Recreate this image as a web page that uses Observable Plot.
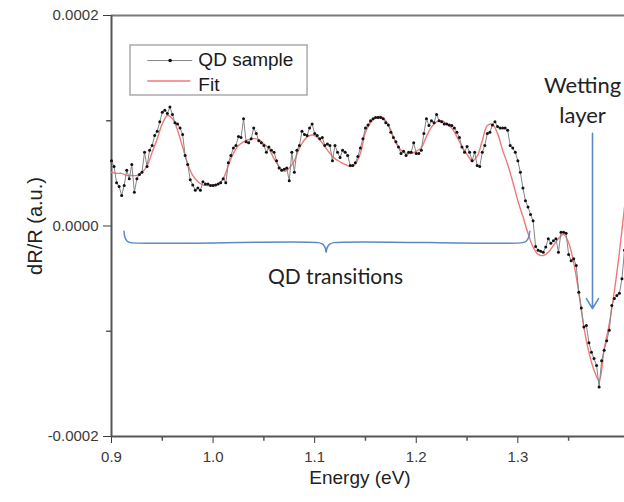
<!DOCTYPE html>
<html>
<head>
<meta charset="utf-8">
<script src="https://cdn.jsdelivr.net/npm/d3@7"></script>
<script src="https://cdn.jsdelivr.net/npm/@observablehq/plot@0.6"></script>
<style>
  html, body { margin: 0; padding: 0; background: #fff; }
  #chart svg { display: block; }
</style>
</head>
<body>
<div id="chart"></div>
<script>
// Energy (eV) of measured points
const sampleEnergy = [
0.9,0.9025,0.905,0.9075,0.91,0.9125,0.915,0.9175,0.92,0.9225,
0.925,0.9275,0.93,0.9325,0.935,0.9375,0.94,0.9425,0.945,0.9475,
0.95,0.9525,0.955,0.9575,0.96,0.9625,0.965,0.9675,0.97,0.9725,
0.975,0.9775,0.98,0.9825,0.985,0.9875,0.99,0.9925,0.995,0.9975,
1.0,1.0025,1.005,1.0075,1.01,1.0125,1.015,1.0175,1.02,1.0225,
1.025,1.0275,1.03,1.0325,1.035,1.0375,1.04,1.0425,1.045,1.0475,
1.05,1.0525,1.055,1.0575,1.06,1.0625,1.065,1.0675,1.07,1.0725,
1.075,1.0775,1.08,1.0825,1.085,1.0875,1.09,1.0925,1.095,1.0975,
1.1,1.1025,1.105,1.1075,1.11,1.1125,1.115,1.1175,1.12,1.1225,
1.125,1.1275,1.13,1.1325,1.135,1.1375,1.14,1.1425,1.145,1.1475,
1.15,1.1525,1.155,1.1575,1.16,1.1625,1.165,1.1675,1.17,1.1725,
1.175,1.1775,1.18,1.1825,1.185,1.1875,1.19,1.1925,1.195,1.1975,
1.2,1.2025,1.205,1.2075,1.21,1.2125,1.215,1.2175,1.22,1.2225,
1.225,1.2275,1.23,1.2325,1.235,1.2375,1.24,1.2425,1.245,1.2475,
1.25,1.2525,1.255,1.2575,1.26,1.2625,1.265,1.2675,1.27,1.2725,
1.275,1.2775,1.28,1.2825,1.285,1.2875,1.29,1.2925,1.295,1.2975,
1.3,1.3025,1.305,1.3075,1.31,1.3125,1.315,1.3175,1.32,1.3225,
1.325,1.3275,1.33,1.3325,1.335,1.3375,1.34,1.3425,1.345,1.3475,
1.35,1.3525,1.355,1.3575,1.36,1.3625,1.365,1.3675,1.37,1.3725,
1.375,1.3775,1.38,1.3825,1.385,1.3875,1.39,1.3925,1.395,1.3975,
1.4,1.4025,1.405];
// dR/R of QD sample, in units of 1e-4
const sampleValue = [
0.62,0.565,0.41,0.375,0.29,0.385,0.53,0.45,0.585,0.32,
0.45,0.49,0.51,0.70,0.565,0.72,0.765,0.86,0.90,0.99,
1.08,1.10,1.07,1.13,1.06,0.98,0.97,0.93,0.87,0.67,
0.585,0.44,0.39,0.34,0.36,0.34,0.42,0.40,0.40,0.385,
0.385,0.39,0.40,0.41,0.45,0.41,0.60,0.67,0.74,0.765,
0.85,0.84,1.02,0.80,0.79,0.83,0.93,0.88,0.81,0.79,
0.765,0.70,0.75,0.72,0.70,0.62,0.55,0.53,0.54,0.55,
0.43,0.70,0.51,0.72,0.765,0.90,0.87,0.86,0.93,0.97,
0.88,0.86,0.83,0.84,0.765,0.78,0.765,0.62,0.765,0.70,
0.65,0.72,0.70,0.67,0.575,0.575,0.60,0.66,0.74,0.83,
0.93,0.96,1.00,1.02,1.03,1.03,1.03,1.02,0.98,0.96,
0.89,0.84,0.80,0.75,0.69,0.71,0.67,0.70,0.70,0.79,
0.69,0.69,0.72,0.88,1.02,0.955,1.00,0.98,1.06,1.00,
0.99,0.97,0.97,0.96,0.955,0.93,0.89,0.84,0.75,0.70,
0.755,0.70,0.62,0.70,0.575,0.565,0.70,0.765,0.88,0.89,
0.96,0.99,0.945,0.93,0.93,0.93,0.91,0.765,0.74,0.70,
0.62,0.51,0.36,0.24,0.18,0.11,0.05,-0.195,-0.23,-0.24,
-0.25,-0.20,-0.12,-0.165,-0.14,-0.12,-0.25,-0.06,-0.06,-0.07,
-0.27,-0.33,-0.31,-0.375,-0.63,-0.78,-0.96,-0.945,-1.11,-1.20,
-1.26,-1.325,-1.53,-1.28,-1.18,-1.09,-0.99,-0.755,-0.69,-0.66,
-0.64,-0.50,-0.23];
// Fit curve
const fitEnergy = [
0.9,0.905,0.91,0.915,0.92,0.925,0.93,0.935,0.94,0.945,
0.95,0.955,0.96,0.965,0.97,0.975,0.98,0.985,0.99,0.995,
1.0,1.005,1.01,1.015,1.02,1.025,1.03,1.035,1.04,1.045,
1.05,1.055,1.06,1.065,1.07,1.075,1.08,1.085,1.09,1.095,
1.1,1.105,1.11,1.115,1.12,1.125,1.13,1.135,1.14,1.145,
1.15,1.155,1.16,1.165,1.17,1.175,1.18,1.185,1.19,1.195,
1.2,1.205,1.21,1.215,1.22,1.225,1.23,1.235,1.24,1.245,
1.25,1.255,1.26,1.265,1.27,1.275,1.28,1.285,1.29,1.295,
1.3,1.305,1.31,1.315,1.32,1.325,1.33,1.335,1.34,1.345,
1.35,1.355,1.36,1.365,1.37,1.375,1.38,1.385,1.39,1.395,
1.4,1.405];
const fitValue = [
0.51,0.50,0.50,0.48,0.48,0.48,0.51,0.57,0.70,0.83,
0.97,1.05,1.02,0.91,0.75,0.59,0.48,0.42,0.39,0.385,
0.39,0.40,0.45,0.575,0.69,0.765,0.80,0.82,0.83,0.82,
0.78,0.73,0.64,0.565,0.52,0.55,0.62,0.74,0.82,0.86,
0.86,0.82,0.755,0.69,0.64,0.61,0.585,0.565,0.59,0.69,
0.89,0.98,1.03,1.04,1.00,0.91,0.79,0.72,0.69,0.69,
0.71,0.745,0.85,0.94,0.99,1.00,0.97,0.93,0.85,0.755,
0.68,0.62,0.665,0.81,0.955,0.965,0.88,0.72,0.585,0.42,
0.24,0.09,-0.07,-0.20,-0.27,-0.28,-0.25,-0.185,-0.12,-0.08,
-0.16,-0.35,-0.63,-0.96,-1.20,-1.37,-1.47,-1.17,-0.93,-0.62,
-0.25,0.18];

const xTicks = [0.9, 1.0, 1.1, 1.2, 1.3];
const xMinorTicks = [0.95, 1.05, 1.15, 1.25, 1.35];
const yTicks = [-2, 0, 2];
const yMinorTicks = [-1, 1];
const seriesNames = ["QD sample", "Fit"];
const annotationTexts = ["QD transitions", "Wetting", "layer"];
const axisTitles = ["Energy (eV)", "dR/R (a.u.)"];

const sample = sampleEnergy.map((e, i) => ({e, v: sampleValue[i]}));
const fit = fitEnergy.map((e, i) => ({e, v: fitValue[i]}));

// Brace shape (data coords)
const brace = [
  {e: 0.9123, v: -0.05}, {e: 0.9133, v: -0.11}, {e: 0.9155, v: -0.145}, {e: 0.919, v: -0.158},
  {e: 1.1035, v: -0.158}, {e: 1.1078, v: -0.172}, {e: 1.1103, v: -0.205}, {e: 1.1113, v: -0.25},
  {e: 1.1123, v: -0.205}, {e: 1.1148, v: -0.172}, {e: 1.119, v: -0.158},
  {e: 1.3045, v: -0.158}, {e: 1.3083, v: -0.145}, {e: 1.3105, v: -0.11}, {e: 1.3118, v: -0.05}
];

const blue = "#5a8ac6";
const annoFont = "Lato, 'Open Sans', sans-serif";

const chart = Plot.plot({
  width: 624,
  height: 502,
  marginLeft: 111,
  marginRight: 0,
  marginTop: 15,
  marginBottom: 66,
  style: {fontFamily: "'Liberation Sans', Arial, sans-serif", fontSize: "15px", color: "#3a3a3a", background: "white"},
  x: {domain: [0.9, 1.405], ticks: xTicks, tickFormat: d => d.toFixed(1), tickSize: 7, tickPadding: 8, label: null},
  y: {domain: [-2, 2], ticks: yTicks, tickFormat: d => (d * 1e-4).toFixed(4), tickSize: 8, tickPadding: 5, label: null},
  marks: [
    // frame
    Plot.ruleY([2], {stroke: "#7a7a7a", strokeWidth: 2}),
    Plot.ruleY([-2], {stroke: "#555", strokeWidth: 2}),
    Plot.ruleX([0.9], {stroke: "#555", strokeWidth: 2}),
    Plot.ruleX(xMinorTicks, {y1: -2, y2: -2.045, stroke: "#555", strokeWidth: 1.5}),
    Plot.ruleY(yMinorTicks, {x1: 0.9, x2: 0.8952, stroke: "#555", strokeWidth: 1.5}),
    // fit
    Plot.line(fit, {x: "e", y: "v", stroke: "#f07878", strokeWidth: 1.4, curve: "catmull-rom"}),
    // data
    Plot.line(sample, {x: "e", y: "v", stroke: "#858585", strokeWidth: 1}),
    Plot.dot(sample, {x: "e", y: "v", r: 1.5, fill: "#111"}),
    // brace
    Plot.line(brace, {x: "e", y: "v", stroke: blue, strokeWidth: 1.5, curve: "catmull-rom"}),
    Plot.text([annotationTexts[0]], {x: 1.1205, y: -0.49, text: d => d, fontSize: 21, fontFamily: annoFont, fill: "#222"}),
    // wetting layer arrow + text
    Plot.arrow([{x1: 1.3735, y1: 0.88, x2: 1.3735, y2: -0.785}], {x1: "x1", y1: "y1", x2: "x2", y2: "y2", stroke: blue, strokeWidth: 1.6, headLength: 11, headAngle: 62}),
    Plot.text([annotationTexts[1]], {x: 1.3637, y: 1.335, text: d => d, fontSize: 22, fontFamily: annoFont, fill: "#222"}),
    Plot.text([annotationTexts[2]], {x: 1.3637, y: 1.045, text: d => d, fontSize: 22, fontFamily: annoFont, fill: "#222"}),
    // legend
    Plot.rect([{x1: 0.9187, x2: 1.093, y1: 1.24, y2: 1.715}], {x1: "x1", x2: "x2", y1: "y1", y2: "y2", fill: "white", stroke: "#aaa", strokeWidth: 1.5}),
    Plot.link([{x1: 0.9352, x2: 0.9795, y: 1.572}], {x1: "x1", x2: "x2", y1: "y", y2: "y", stroke: "#858585", strokeWidth: 1}),
    Plot.dot([{x: 0.9577, y: 1.572}], {x: "x", y: "y", r: 1.8, fill: "#111"}),
    Plot.link([{x1: 0.9352, x2: 0.9776, y: 1.378}], {x1: "x1", x2: "x2", y1: "y", y2: "y", stroke: "#f07878", strokeWidth: 1.5}),
    Plot.text([seriesNames[0]], {x: 0.9855, y: 1.58, text: d => d, textAnchor: "start", fontSize: 19, fill: "#1a1a1a"}),
    Plot.text([seriesNames[1]], {x: 0.9855, y: 1.345, text: d => d, textAnchor: "start", fontSize: 19, fill: "#1a1a1a"}),
    // axis titles
    Plot.text([axisTitles[0]], {frameAnchor: "bottom", text: d => d, dx: -8, dy: 47, fontSize: 19, fill: "#222"}),
    Plot.text([{t: axisTitles[1], x: 0.9, y: 0}], {x: "x", y: "y", text: "t", rotate: -90, dx: -76, fontSize: 20, fill: "#222"})
  ]
});
document.getElementById("chart").appendChild(chart);
</script>
</body>
</html>
